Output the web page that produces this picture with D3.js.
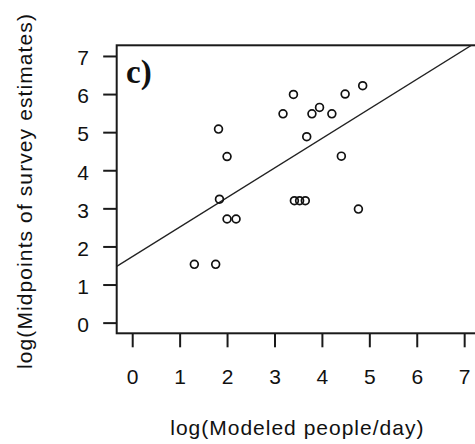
<!DOCTYPE html>
<html>
<head>
<meta charset="utf-8">
<script src="https://cdn.jsdelivr.net/npm/d3@7/dist/d3.min.js"></script>
<style>
  html, body { margin: 0; padding: 0; background: #fff; }
  svg { display: block; }
  text { font-family: Arial, "Liberation Sans", sans-serif; fill: #111; }
</style>
</head>
<body>
<div id="chart"></div>
<script>
// Modeled visitation (x) versus survey midpoints (y), both on natural-log scale
const modeledLog = [1.82, 2.00, 1.84, 2.00, 2.19, 3.40, 3.18, 3.79, 3.95, 4.21,
                    4.49, 4.86, 3.68, 4.41, 3.42, 3.53, 3.65, 4.77, 1.31, 1.76];
const surveyLog  = [5.08, 4.36, 3.24, 2.72, 2.72, 5.99, 5.48, 5.48, 5.65, 5.48,
                    6.00, 6.22, 4.88, 4.37, 3.20, 3.20, 3.20, 2.98, 1.53, 1.53];

// Fitted line: survey = intercept + slope * modeled
const fitIntercept = [1.73];
const fitSlope = [0.776];

const xTicks = [0, 1, 2, 3, 4, 5, 6, 7];
const yTicks = [0, 1, 2, 3, 4, 5, 6, 7];

const panelLabel = "c)";
const xTitle = "log(Modeled people/day)";
const yTitle = "log(Midpoints of survey estimates)";

const W = 475, H = 444;
const svg = d3.select("#chart").append("svg")
  .attr("width", W).attr("height", H);

const x = d3.scaleLinear().domain([-0.327, 7.3]).range([116.7, 478.4]);
const y = d3.scaleLinear().domain([-0.28, 7.28]).range([333.3, 45.3]);

const [x0, x1] = x.range();
const [yb, yt] = y.range();

svg.append("defs").append("clipPath").attr("id", "plotClip")
  .append("rect").attr("x", x0).attr("y", yt).attr("width", x1 - x0).attr("height", yb - yt);

// Axes
const yAxis = d3.axisLeft(y).tickValues(yTicks).tickSize(13.5).tickPadding(14)
  .tickFormat(d3.format("d"));
const gy = svg.append("g").attr("transform", `translate(${x0},0)`).call(yAxis);

const xAxis = d3.axisBottom(x).tickValues(xTicks).tickSize(14).tickPadding(21.8)
  .tickFormat(d3.format("d"));
const gx = svg.append("g").attr("transform", `translate(0,${yb})`).call(xAxis);

[gx, gy].forEach(g => {
  g.select(".domain").remove();
  g.selectAll(".tick line").attr("stroke", "#1a1a1a").attr("stroke-width", 2);
  g.selectAll(".tick text")
    .style("font-family", "Arial, 'Liberation Sans', sans-serif")
    .style("font-size", "21px").attr("fill", "#111");
});
gy.selectAll(".tick text").attr("text-anchor", "middle").attr("x", -33.7).attr("dy", "0.42em");

// Plot frame
svg.append("rect")
  .attr("x", x0).attr("y", yt).attr("width", x1 - x0).attr("height", yb - yt)
  .attr("fill", "none").attr("stroke", "#1a1a1a").attr("stroke-width", 2);

// Fitted line across the full plot region
const xs = x.domain();
svg.append("line")
  .attr("clip-path", "url(#plotClip)")
  .attr("x1", x(xs[0])).attr("y1", y(fitIntercept[0] + fitSlope[0] * xs[0]))
  .attr("x2", x(xs[1])).attr("y2", y(fitIntercept[0] + fitSlope[0] * xs[1]))
  .attr("stroke", "#222").attr("stroke-width", 1.3);

// Points
svg.append("g").selectAll("circle")
  .data(modeledLog.map((v, i) => [v, surveyLog[i]]))
  .join("circle")
  .attr("cx", d => x(d[0])).attr("cy", d => y(d[1]))
  .attr("r", 3.9)
  .attr("fill", "none").attr("stroke", "#111").attr("stroke-width", 1.7);

// Panel label
svg.append("text")
  .attr("x", 126).attr("y", 82.5)
  .style("font-family", "'Liberation Serif', 'Times New Roman', serif")
  .style("font-weight", "bold").style("font-size", "33px")
  .attr("fill", "#000")
  .text(panelLabel);

// Axis titles
svg.append("text")
  .attr("x", 297.3).attr("y", 435)
  .attr("text-anchor", "middle")
  .style("font-size", "21px").style("letter-spacing", "1px")
  .text(xTitle);

svg.append("text")
  .attr("transform", "translate(32.3,191) rotate(-90)")
  .attr("text-anchor", "middle")
  .style("font-size", "21px").style("letter-spacing", "1.1px")
  .text(yTitle);
</script>
</body>
</html>
